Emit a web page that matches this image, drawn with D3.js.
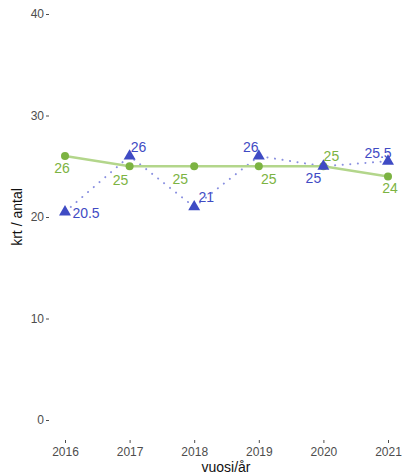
<!DOCTYPE html>
<html><head><meta charset="utf-8">
<script src="https://cdn.jsdelivr.net/npm/d3@7"></script>
<style>body{margin:0;background:#fff}svg{display:block}text{font-family:"Liberation Sans",Arial,sans-serif}</style>
</head><body><svg id="c" width="404" height="476"></svg>
<script>
const years = [2016, 2017, 2018, 2019, 2020, 2021];
const greenValues = [26, 25, 25, 25, 25, 24];
const blueValues = [20.5, 26, 21, 26, 25, 25.5];
const yTicks = [0, 10, 20, 30, 40];
const greenLabelOffsets = [[-3, 12], [-9, 14], [-14, 13], [10, 13], [8, -10], [2, 12]];
const blueLabelOffsets = [[21, 1], [9, -9], [12, -10], [-8, -9], [-10, 12], [-10, -8]];

const svg = d3.select("#c");
const x = d3.scalePoint().domain(years).range([65, 388]);
const y = d3.scaleLinear().domain([0, 40]).range([420, 14]);

// y axis
const ya = svg.append("g").attr("transform", "translate(49,0)")
  .call(d3.axisLeft(y).tickValues(yTicks).tickSize(3).tickPadding(2));
ya.select(".domain").remove();
ya.selectAll("line").attr("stroke", "#4d4d4d");
ya.selectAll("text").attr("fill", "#4d4d4d").style("font-size", "12px");

// x axis
const xa = svg.append("g").attr("transform", "translate(0,440)")
  .call(d3.axisBottom(x).tickSize(3).tickPadding(4));
xa.select(".domain").remove();
xa.selectAll("line").attr("stroke", "#4d4d4d");
xa.selectAll("text").attr("fill", "#4d4d4d").style("font-size", "12px");

svg.append("text").attr("x", 226).attr("y", 472).attr("text-anchor", "middle")
  .style("font-size", "14px").attr("fill", "#111").text("vuosi/år");
svg.append("text").attr("transform", "translate(22,217) rotate(-90)").attr("text-anchor", "middle")
  .style("font-size", "14px").attr("fill", "#111").text("krt / antal");

const gColor = "#7cb342", gLine = "#b3d68b";
const bColor = "#3f4bc4", bLine = "#8a90e0";

// blue dotted line
svg.append("path").datum(blueValues)
  .attr("d", d3.line().x((d, i) => x(years[i])).y(d => y(d)))
  .attr("fill", "none").attr("stroke", bLine).attr("stroke-width", 2)
  .attr("stroke-dasharray", "0.1,7.5").attr("stroke-linecap", "round");

// green line
svg.append("path").datum(greenValues)
  .attr("d", d3.line().x((d, i) => x(years[i])).y(d => y(d)))
  .attr("fill", "none").attr("stroke", gLine).attr("stroke-width", 2.5);

svg.selectAll(".gp").data(greenValues).enter().append("circle")
  .attr("cx", (d, i) => x(years[i])).attr("cy", d => y(d)).attr("r", 4).attr("fill", gColor);

const tri = d3.symbol().type(d3.symbolTriangle).size(62);
svg.selectAll(".bp").data(blueValues).enter().append("path")
  .attr("d", tri)
  .attr("transform", (d, i) => `translate(${x(years[i])},${y(d)})`).attr("fill", bColor);

svg.selectAll(".gl").data(greenValues).enter().append("text")
  .attr("x", (d, i) => x(years[i]) + greenLabelOffsets[i][0])
  .attr("y", (d, i) => y(d) + greenLabelOffsets[i][1])
  .attr("text-anchor", "middle").attr("dominant-baseline", "central")
  .style("font-size", "14px").attr("fill", gColor).text(d => d);

svg.selectAll(".bl").data(blueValues).enter().append("text")
  .attr("x", (d, i) => x(years[i]) + blueLabelOffsets[i][0])
  .attr("y", (d, i) => y(d) + blueLabelOffsets[i][1])
  .attr("text-anchor", "middle").attr("dominant-baseline", "central")
  .style("font-size", "14px").attr("fill", bColor).text(d => d);
</script></body></html>
